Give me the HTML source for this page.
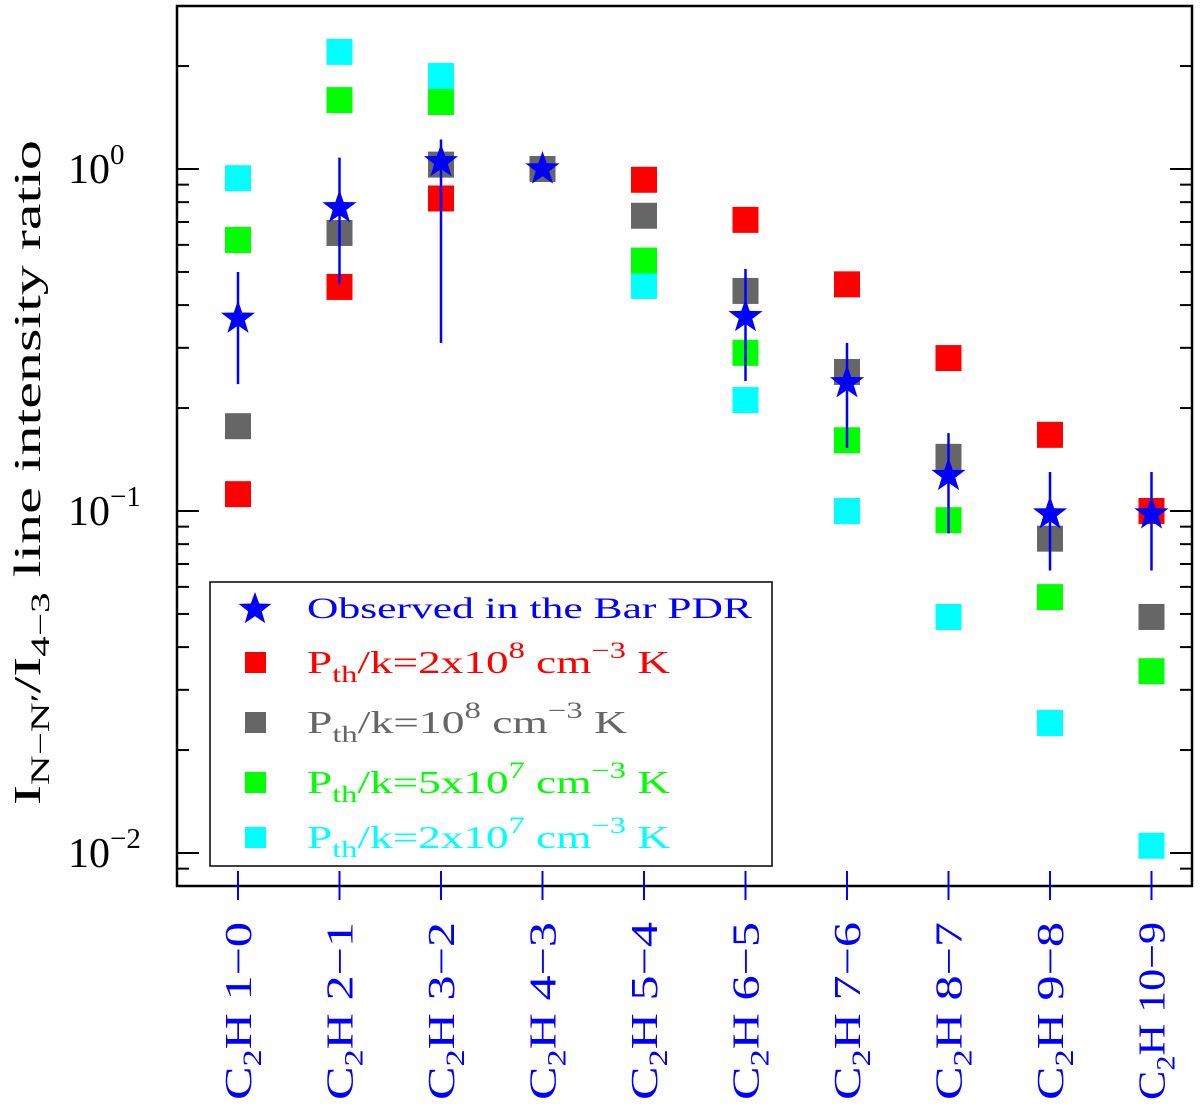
<!DOCTYPE html>
<html><head><meta charset="utf-8"><style>html,body{margin:0;padding:0;background:#fff}svg{display:block}</style></head>
<body>
<svg id="chart" width="1200" height="1120" viewBox="0 0 1200 1120" xmlns="http://www.w3.org/2000/svg" font-family="'Liberation Mono', 'DejaVu Sans Mono', monospace">
<g id="axes"></g>
<g id="marks"></g>
<g id="legend">
  <rect x="210" y="582" width="562" height="284" fill="#fff" stroke="#000" stroke-width="1.5"/>
  <g>
    <path d="M255,592 L259.2,603.5 L271.4,603.9 L261.8,611.4 L265.2,623.1 L255,616.2 L244.8,623.1 L248.2,611.4 L238.6,603.9 L250.8,603.5Z" fill="#0000ff"/>
    <text x="307" y="618" font-size="30" fill="#0000ff" font-family="'Liberation Serif', serif" textLength="445" lengthAdjust="spacingAndGlyphs">Observed in the Bar PDR</text>
  </g>
  <g>
    <rect x="245" y="652" width="21" height="21" fill="#ff0000"/>
    <text x="307" y="673" font-size="32" fill="#ff0000" font-family="'Liberation Serif', serif" textLength="363" lengthAdjust="spacingAndGlyphs">P<tspan font-size="23" dy="9">th</tspan><tspan dy="-9">/k=2x10</tspan><tspan font-size="23" dy="-15">8</tspan><tspan dy="15"> cm</tspan><tspan font-size="23" dy="-15">−3</tspan><tspan dy="15"> K</tspan></text>
  </g>
  <g>
    <rect x="245" y="712" width="21" height="21" fill="#666666"/>
    <text x="307" y="733" font-size="32" fill="#666666" font-family="'Liberation Serif', serif" textLength="320" lengthAdjust="spacingAndGlyphs">P<tspan font-size="23" dy="9">th</tspan><tspan dy="-9">/k=10</tspan><tspan font-size="23" dy="-15">8</tspan><tspan dy="15"> cm</tspan><tspan font-size="23" dy="-15">−3</tspan><tspan dy="15"> K</tspan></text>
  </g>
  <g>
    <rect x="245" y="772" width="21" height="21" fill="#00ff00"/>
    <text x="307" y="793" font-size="32" fill="#00ff00" font-family="'Liberation Serif', serif" textLength="363" lengthAdjust="spacingAndGlyphs">P<tspan font-size="23" dy="9">th</tspan><tspan dy="-9">/k=5x10</tspan><tspan font-size="23" dy="-15">7</tspan><tspan dy="15"> cm</tspan><tspan font-size="23" dy="-15">−3</tspan><tspan dy="15"> K</tspan></text>
  </g>
  <g>
    <rect x="245" y="827" width="21" height="21" fill="#00ffff"/>
    <text x="307" y="848" font-size="32" fill="#00ffff" font-family="'Liberation Serif', serif" textLength="363" lengthAdjust="spacingAndGlyphs">P<tspan font-size="23" dy="9">th</tspan><tspan dy="-9">/k=2x10</tspan><tspan font-size="23" dy="-15">7</tspan><tspan dy="15"> cm</tspan><tspan font-size="23" dy="-15">−3</tspan><tspan dy="15"> K</tspan></text>
  </g>
</g>
<text transform="translate(40,805) rotate(-90)" font-size="38" font-family="'Liberation Serif', serif" fill="#000" textLength="665" lengthAdjust="spacingAndGlyphs">I<tspan font-size="26" dy="9">N−N′</tspan><tspan dy="-9">/I</tspan><tspan font-size="26" dy="9">4−3</tspan><tspan dy="-9">   line intensity ratio</tspan></text>
</svg>
<script>
const categories = ["1\u22120","2\u22121","3\u22122","4\u22123","5\u22124","6\u22125","7\u22126","8\u22127","9\u22128","10\u22129"];
const red   = [0.112,0.452,0.82,1.0,0.93,0.71,0.46,0.28,0.167,0.1];
const gray  = [0.177,0.65,1.03,1.0,0.73,0.44,0.255,0.144,0.083,0.049];
const green = [0.62,1.59,1.57,1.0,0.54,0.29,0.161,0.094,0.056,0.034];
const cyan  = [0.94,2.2,1.87,1.0,0.455,0.211,0.1,0.049,0.024,0.0105];
const observed = [0.366,0.77,1.05,1.0,null,0.37,0.237,0.127,0.098,0.098];
const errLow  = [0.235,0.46,0.31,null,null,0.24,0.153,0.086,0.067,0.067];
const errHigh = [0.50,1.08,1.22,null,null,0.51,0.31,0.169,0.13,0.13];
const yTickValues = [0.01,0.1,1];
const yTickExps = ["−2","−1","0"];

const NS="http://www.w3.org/2000/svg";
const L=177,R=1192,T=6,B=886;
function xPos(i){return 238+i*101.5;}
function yPos(v){return 169-Math.log10(v)*342;}
function mk(tag,attrs,parent){const e=document.createElementNS(NS,tag);for(const k in attrs)e.setAttribute(k,attrs[k]);parent.appendChild(e);return e;}
const axes=document.getElementById('axes'), marks=document.getElementById('marks');

const frame=mk('rect',{x:L,y:T,width:R-L,height:B-T,fill:'none',stroke:'#000','stroke-width':2.5},axes);


for(let d=-3;d<=0;d++){for(let m=1;m<=9;m++){const v=m*Math.pow(10,d);const y=yPos(v);if(y<T||y>B)continue;const len=m===1?22:12;
  const t1=mk('line',{x1:L,x2:L+len,y1:y,y2:y,stroke:'#000','stroke-width':2},axes);
  
  
  const t2=mk('line',{x1:R-len,x2:R,y1:y,y2:y,stroke:'#000','stroke-width':2},axes);
  
  
}}
yTickValues.forEach((v,i)=>{const y=yPos(v);
  const t=mk('text',{x:68,y:y+14,'font-size':42,'font-family':"'Liberation Serif', serif",fill:'#000'},axes);
  
  
  t.innerHTML='10<tspan font-size="29" dy="-19">'+yTickExps[i]+'</tspan>';
});
categories.forEach((c,i)=>{const x=xPos(i);
  const tk=mk('line',{x1:x,x2:x,y1:871,y2:900,stroke:'#0000ff','stroke-width':2},axes);
  
  
  const len = c.length>4 ? 190 : 178;
  const t=mk('text',{transform:'translate('+(x+13)+',1100) rotate(-90)','font-size':38,fill:'#0000ff','font-family':"'Liberation Serif', serif",textLength:len,lengthAdjust:'spacingAndGlyphs'},axes);
  
  
  t.innerHTML='C<tspan font-size="26" dy="10">2</tspan><tspan dy="-10">H '+c+'</tspan>';
});
function squares(arr,color,name){arr.forEach((v,i)=>{if(v==null)return;
  const r=mk('rect',{x:xPos(i)-13,y:yPos(v)-13,width:26,height:26,fill:color},marks);
  
  
});}
squares(cyan,'#00ffff','square-2e7');
squares(green,'#00ff00','square-5e7');
squares(red,'#ff0000','square-2e8');
squares(gray,'#666666','square-1e8');
function star(cx,cy,ro){const ri=ro*0.4;let p=[];for(let k=0;k<10;k++){const r=k%2?ri:ro;const a=-Math.PI/2+k*Math.PI/5;p.push((cx+r*Math.cos(a)).toFixed(1)+','+(cy+r*Math.sin(a)).toFixed(1));}return p.join(' ');}
observed.forEach((v,i)=>{if(v==null)return;const x=xPos(i);
  if(errLow[i]!=null){const e=mk('line',{x1:x,x2:x,y1:yPos(errHigh[i]),y2:yPos(errLow[i]),stroke:'#0000ff','stroke-width':2.5},marks);
    
    }
  const s=mk('polygon',{points:star(x,yPos(v),18),fill:'#0000ff'},marks);
  
  
});
</script>
</body></html>
